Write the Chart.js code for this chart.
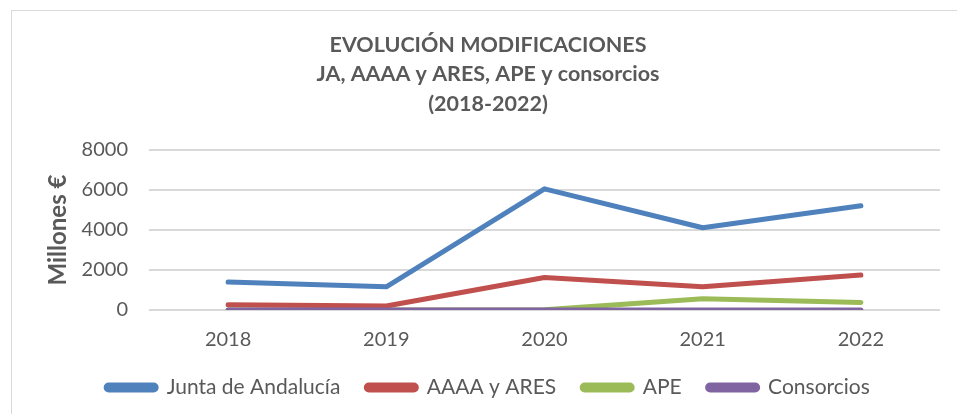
<!DOCTYPE html>
<html lang="es">
<head>
    <meta charset="utf-8">
    <title>Evolución modificaciones</title>
    <script src="https://cdn.jsdelivr.net/npm/chart.js"></script>
    <style>
        body, html {
            margin: 0;
            background: #ffffff;
            overflow: hidden;
        }
        #box {
            position: absolute;
            left: 11px;
            top: 10px;
            width: 960px;
            height: 420px;
            border: 1px solid #d9d9d9;
        }
        #wrap {
            position: absolute;
            left: 0;
            top: 0;
            width: 982px;
            height: 404px;
        }
    </style>
</head>
<body>

<div id="box"></div>
<div id="wrap"><canvas id="myChart"></canvas></div>

<script>
    const years = ['2018', '2019', '2020', '2021', '2022'];
    const junta = [1395, 1160, 6060, 4115, 5210];
    const aaaaAres = [265, 200, 1625, 1160, 1745];
    const ape = [0, 0, 10, 565, 380];
    const consorcios = [5, 5, 5, 5, 5];
    const yTicks = [0, 2000, 4000, 6000, 8000];

    const grey = '#595959';
    const fontName = 'Lato, "Open Sans", sans-serif';

    function serie(label, values, color, order) {
        return {
            label: label,
            data: values,
            borderColor: color,
            backgroundColor: color,
            borderWidth: 5,
            borderCapStyle: 'round',
            borderJoinStyle: 'round',
            borderRadius: 2.5,
            pointRadius: 0,
            tension: 0,
            fill: false,
            order: order
        };
    }

    const data = {
        labels: years,
        datasets: [
            serie('Junta de Andalucía', junta, '#4f81bd', 1),
            serie('AAAA y ARES', aaaaAres, '#c0504d', 2),
            serie('APE', ape, '#9bbb59', 3),
            serie('Consorcios', consorcios, '#8064a2', 0)
        ]
    };

    const config = {
        type: 'line',
        data: data,
        options: {
            responsive: true,
            maintainAspectRatio: false,
            animation: false,
            layout: {
                padding: {left: 0, right: 6, top: 20, bottom: 5}
            },
            plugins: {
                title: {
                    display: true,
                    text: ['EVOLUCIÓN MODIFICACIONES', 'JA, AAAA y ARES, APE y consorcios', '(2018-2022)'],
                    color: grey,
                    font: {family: fontName, size: 21.5, weight: 'bold', lineHeight: 1.38},
                    padding: {top: 10, bottom: 31}
                },
                legend: {
                    position: 'bottom',
                    maxHeight: 48,
                    labels: {
                        boxWidth: 50,
                        boxHeight: 5,
                        useBorderRadius: true,
                        borderRadius: 2.5,
                        color: grey,
                        font: {family: fontName, size: 21},
                        padding: 26,
                        sort: function (a, b) { return a.datasetIndex - b.datasetIndex; }
                    }
                },
                tooltip: {enabled: false}
            },
            scales: {
                x: {
                    offset: true,
                    grid: {display: false, drawTicks: false},
                    border: {display: false},
                    ticks: {color: grey, font: {family: fontName, size: 20, lineHeight: 1}, padding: 20},
                    afterFit: function (axis) { axis.height = 41; }
                },
                y: {
                    min: 0,
                    max: 8000,
                    afterBuildTicks: function (axis) {
                        axis.ticks = yTicks.map(function (v) { return {value: v}; });
                    },
                    afterFit: function (axis) { axis.width = 149; },
                    grid: {color: '#d9d9d9', lineWidth: 2, drawTicks: false},
                    border: {display: false},
                    ticks: {
                        color: grey,
                        font: {family: fontName, size: 20},
                        padding: 21,
                        callback: function (v) { return String(v); }
                    },
                    title: {
                        display: true,
                        text: 'Millones €',
                        color: grey,
                        font: {family: fontName, size: 24, weight: 'bold'},
                        padding: {top: 44, bottom: 0}
                    }
                },
                // empty right margin so the plot ends where the reference does
                yRight: {
                    position: 'right',
                    display: true,
                    min: 0,
                    max: 8000,
                    grid: {display: false, drawTicks: false},
                    border: {display: false},
                    ticks: {display: false},
                    afterFit: function (axis) { axis.width = 36; }
                }
            }
        }
    };

    const myChart = new Chart(document.getElementById('myChart'), config);
</script>

</body>
</html>
